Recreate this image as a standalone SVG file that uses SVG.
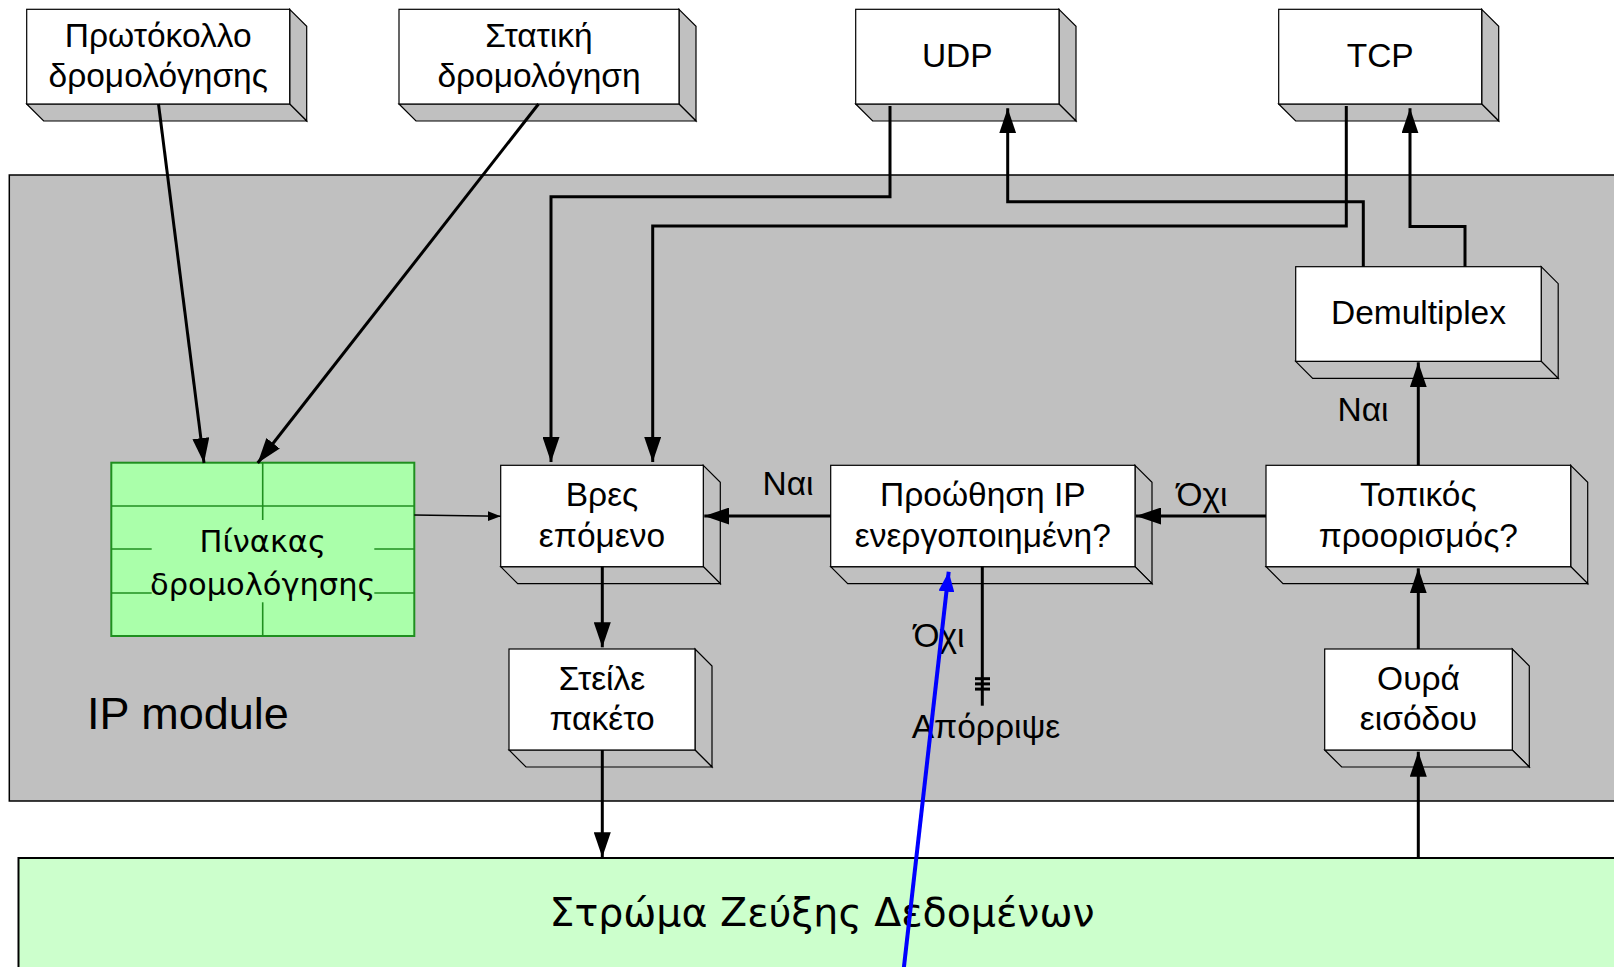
<svg xmlns="http://www.w3.org/2000/svg" width="1614" height="967" viewBox="0 0 1614 967">
<defs>
<style>
.front{fill:#fff;stroke:#000;stroke-width:1.2}
.side{fill:#c0c0c0;stroke:#000;stroke-width:1.2;stroke-linejoin:miter}
.t{font-family:"Liberation Sans",Arial,sans-serif;font-size:33.5px;text-anchor:middle;fill:#000}
.conn{stroke:#000;stroke-width:3;fill:none}
.grid{stroke:#1f8f1f;stroke-width:1.6;fill:none}
</style>
<marker id="ah" viewBox="0 0 25 17" refX="25" refY="8.5" markerWidth="25" markerHeight="17" markerUnits="userSpaceOnUse" orient="auto">
<path d="M0,0 L25,8.5 L0,17 z" fill="#000"/>
</marker>
<marker id="ahs" viewBox="0 0 13 10" refX="13" refY="5" markerWidth="13" markerHeight="10" markerUnits="userSpaceOnUse" orient="auto">
<path d="M0,0 L13,5 L0,10 z" fill="#000"/>
</marker>
<marker id="ahb" viewBox="0 0 20 16" refX="20" refY="8" markerWidth="20" markerHeight="16" markerUnits="userSpaceOnUse" orient="auto">
<path d="M0,0 L20,8 L0,16 z" fill="#0000ff"/>
</marker>
</defs>
<rect width="1614" height="967" fill="#fff"/>

<g id="ip-module">
<rect x="9.3" y="175" width="1700" height="626" fill="#c0c0c0" stroke="#000" stroke-width="1.5"/>
<text x="87" y="728.5" style="font-family:'Liberation Sans',Arial,sans-serif;font-size:45px;fill:#000">IP module</text>
</g>

<g id="data-link">
<rect x="18.5" y="858" width="1700" height="200" fill="#ccffcc" stroke="#000" stroke-width="2"/>
<text x="822" y="926" style="font-family:'DejaVu Sans',sans-serif;font-size:39.5px;text-anchor:middle;fill:#000">Στρώμα Ζεύξης Δεδομένων</text>
</g>

<g id="routing-protocol">
<polygon class="side" points="289.7,9.3 306.7,26.3 306.7,121 289.7,104"/>
<polygon class="side" points="26.7,104 289.7,104 306.7,121 43.7,121"/>
<rect class="front" x="26.7" y="9.3" width="263" height="94.7"/>
<text class="t" x="158.2" y="47">Πρωτόκολλο</text>
<text class="t" x="158.2" y="87">δρομολόγησης</text>
</g>

<g id="static-routing">
<polygon class="side" points="679,9.3 696,26.3 696,121 679,104"/>
<polygon class="side" points="399,104 679,104 696,121 416,121"/>
<rect class="front" x="399" y="9.3" width="280" height="94.7"/>
<text class="t" x="539" y="47">Στατική</text>
<text class="t" x="539" y="87">δρομολόγηση</text>
</g>

<g id="udp">
<polygon class="side" points="1059,9.3 1076,26.3 1076,121 1059,104"/>
<polygon class="side" points="855.7,104 1059,104 1076,121 872.7,121"/>
<rect class="front" x="855.7" y="9.3" width="203.3" height="94.7"/>
<text class="t" x="957.3" y="66.7">UDP</text>
</g>

<g id="tcp">
<polygon class="side" points="1481.7,9.3 1498.7,26.3 1498.7,121 1481.7,104"/>
<polygon class="side" points="1278.7,104 1481.7,104 1498.7,121 1295.7,121"/>
<rect class="front" x="1278.7" y="9.3" width="203" height="94.7"/>
<text class="t" x="1380.2" y="66.7">TCP</text>
</g>

<g id="demultiplex">
<polygon class="side" points="1541.2,266.7 1558.2,283.7 1558.2,378.3 1541.2,361.3"/>
<polygon class="side" points="1295.7,361.3 1541.2,361.3 1558.2,378.3 1312.7,378.3"/>
<rect class="front" x="1295.7" y="266.7" width="245.5" height="94.6"/>
<text class="t" x="1418.5" y="324">Demultiplex</text>
</g>

<g id="routing-table">
<rect x="111.3" y="462.7" width="303" height="173.3" fill="#aaffaa" stroke="#1f8f1f" stroke-width="2"/>
<line class="grid" x1="111.3" y1="506" x2="414.3" y2="506"/>
<line class="grid" x1="262.7" y1="462.7" x2="262.7" y2="520"/>
<line class="grid" x1="262.7" y1="602.3" x2="262.7" y2="636"/>
<line class="grid" x1="111.3" y1="549" x2="151.7" y2="549"/>
<line class="grid" x1="374.3" y1="549" x2="414.3" y2="549"/>
<line class="grid" x1="111.3" y1="593" x2="151.7" y2="593"/>
<line class="grid" x1="374.3" y1="593" x2="414.3" y2="593"/>
<text x="262.7" y="551.7" style="font-family:'DejaVu Sans',sans-serif;font-size:30.5px;text-anchor:middle;fill:#000">Πίνακας</text>
<text x="262.7" y="595" style="font-family:'DejaVu Sans',sans-serif;font-size:30.5px;text-anchor:middle;fill:#000">δρομολόγησης</text>
</g>

<g id="find-next">
<polygon class="side" points="703.3,465.3 720.3,482.3 720.3,583.7 703.3,566.7"/>
<polygon class="side" points="500.7,566.7 703.3,566.7 720.3,583.7 517.7,583.7"/>
<rect class="front" x="500.7" y="465.3" width="202.6" height="101.4"/>
<text class="t" x="602" y="505.7">Βρες</text>
<text class="t" x="602" y="546.7">επόμενο</text>
</g>

<g id="ip-forwarding">
<polygon class="side" points="1135,465.3 1152,482.3 1152,583.7 1135,566.7"/>
<polygon class="side" points="830.7,566.7 1135,566.7 1152,583.7 847.7,583.7"/>
<rect class="front" x="830.7" y="465.3" width="304.3" height="101.4"/>
<text class="t" x="982.8" y="505.7">Προώθηση IP</text>
<text class="t" x="982.8" y="546.7">ενεργοποιημένη?</text>
</g>

<g id="local-destination">
<polygon class="side" points="1570.7,465.3 1587.7,482.3 1587.7,583.7 1570.7,566.7"/>
<polygon class="side" points="1266,566.7 1570.7,566.7 1587.7,583.7 1283,583.7"/>
<rect class="front" x="1266" y="465.3" width="304.7" height="101.4"/>
<text class="t" x="1418.3" y="505.7">Τοπικός</text>
<text class="t" x="1418.3" y="546.7">προορισμός?</text>
</g>

<g id="send-packet">
<polygon class="side" points="695,649 712,666 712,767 695,750"/>
<polygon class="side" points="509,750 695,750 712,767 526,767"/>
<rect class="front" x="509" y="649" width="186" height="101"/>
<text class="t" x="602" y="690">Στείλε</text>
<text class="t" x="602" y="730">πακέτο</text>
</g>

<g id="input-queue">
<polygon class="side" points="1512.3,649 1529.3,666 1529.3,767 1512.3,750"/>
<polygon class="side" points="1324.7,750 1512.3,750 1529.3,767 1341.7,767"/>
<rect class="front" x="1324.7" y="649" width="187.6" height="101"/>
<text class="t" x="1418.5" y="690">Ουρά</text>
<text class="t" x="1418.5" y="730">εισόδου</text>
</g>

<g id="connectors">
<line class="conn" x1="158.5" y1="104" x2="204" y2="463" marker-end="url(#ah)"/>
<line class="conn" x1="538.5" y1="104" x2="257.7" y2="463" marker-end="url(#ah)"/>
<polyline class="conn" points="890,106 890,196.7 551,196.7 551,462" marker-end="url(#ah)"/>
<polyline class="conn" points="1346.3,106 1346.3,226 652.7,226 652.7,462" marker-end="url(#ah)"/>
<polyline class="conn" points="1363.3,266.7 1363.3,201.7 1007.7,201.7 1007.7,108.3" marker-end="url(#ah)"/>
<polyline class="conn" points="1465,266.7 1465,226.5 1410,226.5 1410,108.3" marker-end="url(#ah)"/>
<line class="conn" x1="1418.3" y1="465.3" x2="1418.3" y2="362.3" marker-end="url(#ah)"/>
<line class="conn" x1="1418.3" y1="649" x2="1418.3" y2="568.3" marker-end="url(#ah)"/>
<line class="conn" x1="1418.3" y1="858" x2="1418.3" y2="751.7" marker-end="url(#ah)"/>
<line class="conn" x1="1266" y1="516" x2="1136" y2="516" marker-end="url(#ah)"/>
<line class="conn" x1="830.7" y1="516" x2="704.3" y2="516" marker-end="url(#ah)"/>
<line x1="414.3" y1="515" x2="500.7" y2="516.3" stroke="#000" stroke-width="1.5" marker-end="url(#ahs)"/>
<line class="conn" x1="602.3" y1="566.7" x2="602.3" y2="647.3" marker-end="url(#ah)"/>
<line class="conn" x1="602.3" y1="750" x2="602.3" y2="857.3" marker-end="url(#ah)"/>
<line class="conn" x1="982.3" y1="566.7" x2="982.3" y2="705.7"/>
<line class="conn" x1="975" y1="678.7" x2="990" y2="678.7"/>
<line class="conn" x1="975" y1="683.9" x2="990" y2="683.9"/>
<line class="conn" x1="975" y1="689.1" x2="990" y2="689.1"/>
<text class="t" x="1363" y="420.7">Ναι</text>
<text class="t" x="788" y="495">Ναι</text>
<text class="t" x="1202" y="505.7">Όχι</text>
<text class="t" x="939" y="646.7">Όχι</text>
<text class="t" x="986" y="738.3">Απόρριψε</text>
<line x1="903.6" y1="970" x2="948.7" y2="571.7" stroke="#0000ff" stroke-width="4" marker-end="url(#ahb)"/>
</g>
</svg>
